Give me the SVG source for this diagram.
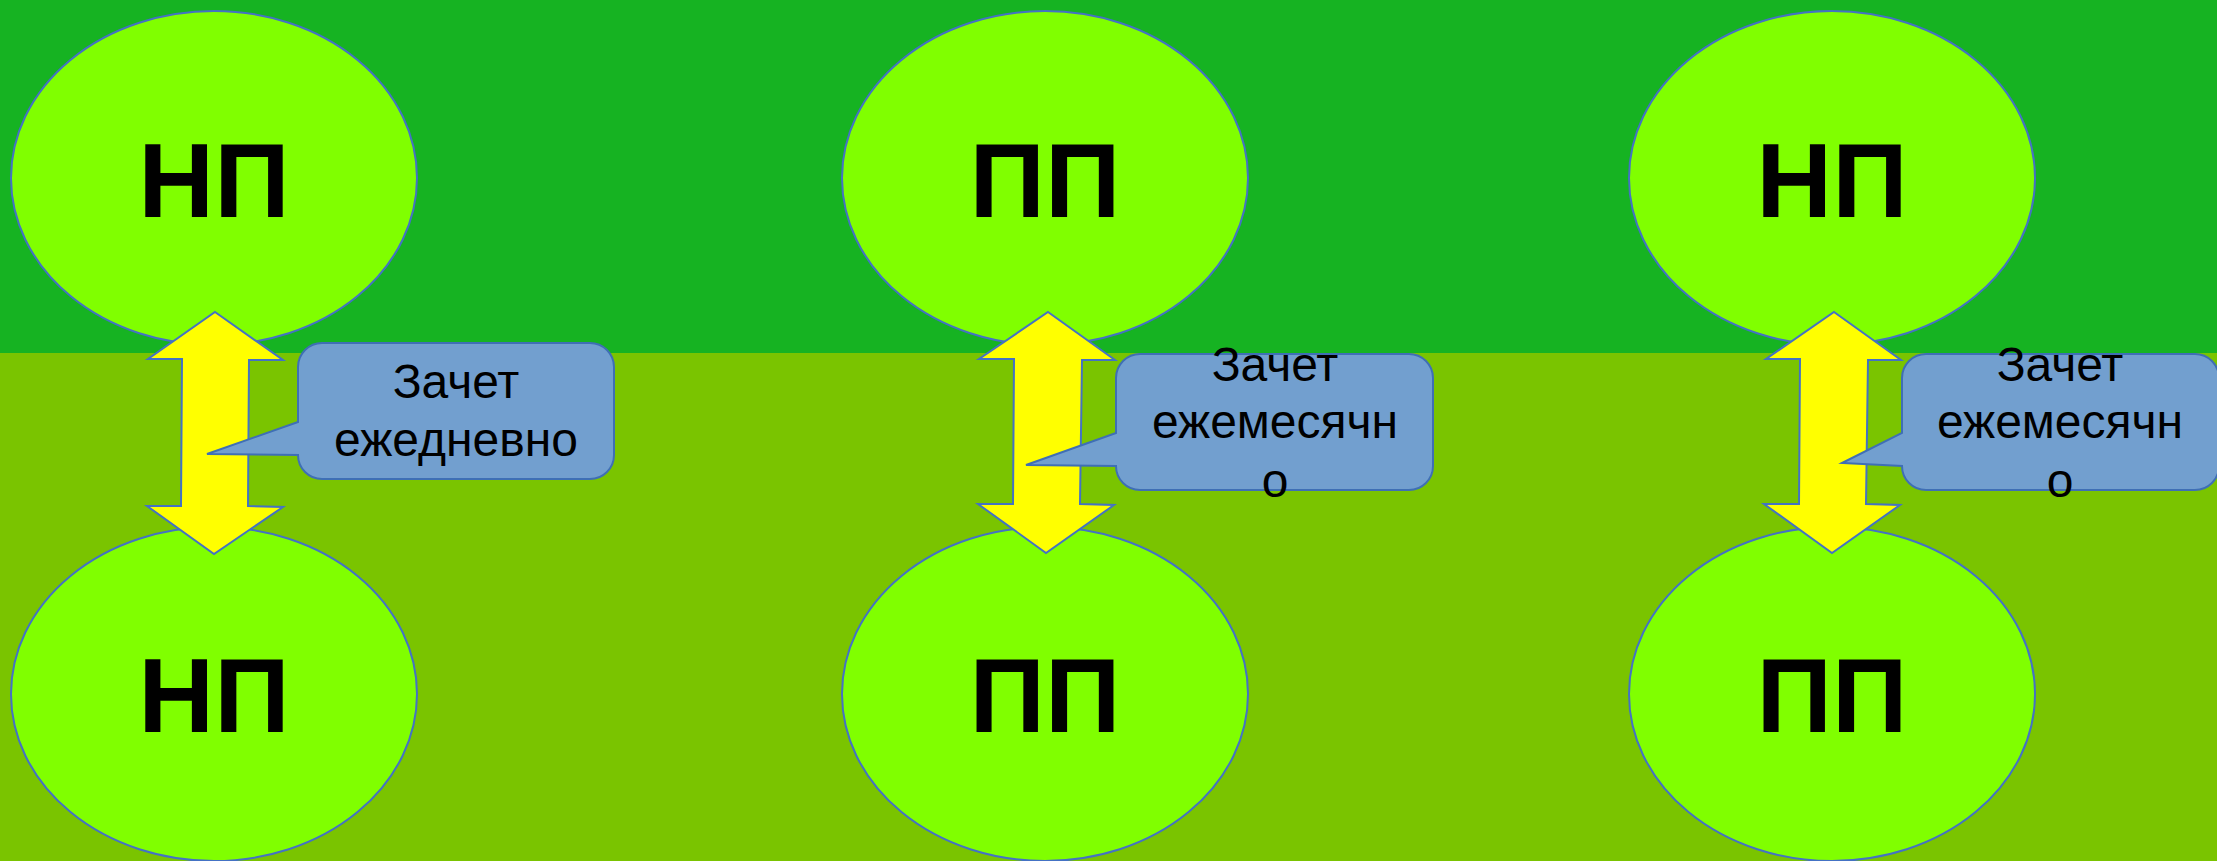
<svg xmlns="http://www.w3.org/2000/svg" width="2217" height="861" viewBox="0 0 2217 861">
<style>
.node{fill:#80FF00;stroke:#4472C4;stroke-width:2}
.big{font-family:"Liberation Sans",Arial,sans-serif;font-weight:bold;font-size:105px;fill:#000;text-anchor:middle}
.arrow{fill:#FFFF00;stroke:#4472C4;stroke-width:2;stroke-linejoin:miter}
.callout{fill:#729FCF;stroke:#3F6FB5;stroke-width:2}
.lbl{font-family:"Liberation Sans",Arial,sans-serif;font-size:48px;fill:#000;text-anchor:middle}
</style>
<rect x="0" y="0" width="2217" height="353" fill="#16B322"/>
<rect x="0" y="353" width="2217" height="508" fill="#7AC400"/>

<g id="node-top-left"><ellipse class="node" cx="214" cy="178" rx="203" ry="167"/><text class="big" x="214" y="217">НП</text></g>
<g id="node-top-mid"><ellipse class="node" cx="1045" cy="178" rx="203" ry="167"/><text class="big" x="1045" y="217">ПП</text></g>
<g id="node-top-right"><ellipse class="node" cx="1832" cy="178" rx="203" ry="167"/><text class="big" x="1832" y="217">НП</text></g>
<g id="node-bot-left"><ellipse class="node" cx="214" cy="694" rx="203" ry="167"/><text class="big" x="214" y="732">НП</text></g>
<g id="node-bot-mid"><ellipse class="node" cx="1045" cy="694" rx="203" ry="167"/><text class="big" x="1045" y="732">ПП</text></g>
<g id="node-bot-right"><ellipse class="node" cx="1832" cy="694" rx="203" ry="167"/><text class="big" x="1832" y="732">ПП</text></g>

<g id="connectors">
<polygon class="arrow" points="215,312 283,360 249,360 248,506 283,507 214,554 147,506 181,506 182,359 148,359"/>
<polygon class="arrow" points="1048,312 1115,360 1082,360 1080,504 1114,505 1046,553 978,504 1013,504 1014,359 979,359"/>
<polygon class="arrow" points="1834,312 1901,360 1868,360 1866,504 1900,505 1832,553 1764,504 1799,504 1800,359 1766,359"/>
</g>

<g id="callout-left">
<path class="callout" d="M322,343 H590 A24,24 0 0 1 614,367 V455 A24,24 0 0 1 590,479 H322 A24,24 0 0 1 298,455 L207,454 L298,422 V367 A24,24 0 0 1 322,343 Z"/>
<text class="lbl" x="456" y="398">Зачет</text>
<text class="lbl" x="456" y="456">ежедневно</text>
</g>
<g id="callout-mid">
<path class="callout" d="M1140,354 H1409 A24,24 0 0 1 1433,378 V466 A24,24 0 0 1 1409,490 H1140 A24,24 0 0 1 1116,466 L1026,465 L1116,433 V378 A24,24 0 0 1 1140,354 Z"/>
<text class="lbl" x="1275" y="381">Зачет</text>
<text class="lbl" x="1275" y="438">ежемесячн</text>
<text class="lbl" x="1275" y="497">о</text>
</g>
<g id="callout-right">
<path class="callout" d="M1926,354 H2195 A24,24 0 0 1 2219,378 V466 A24,24 0 0 1 2195,490 H1926 A24,24 0 0 1 1902,466 L1842,463 L1902,433 V378 A24,24 0 0 1 1926,354 Z"/>
<text class="lbl" x="2060" y="381">Зачет</text>
<text class="lbl" x="2060" y="438">ежемесячн</text>
<text class="lbl" x="2060" y="497">о</text>
</g>
</svg>
